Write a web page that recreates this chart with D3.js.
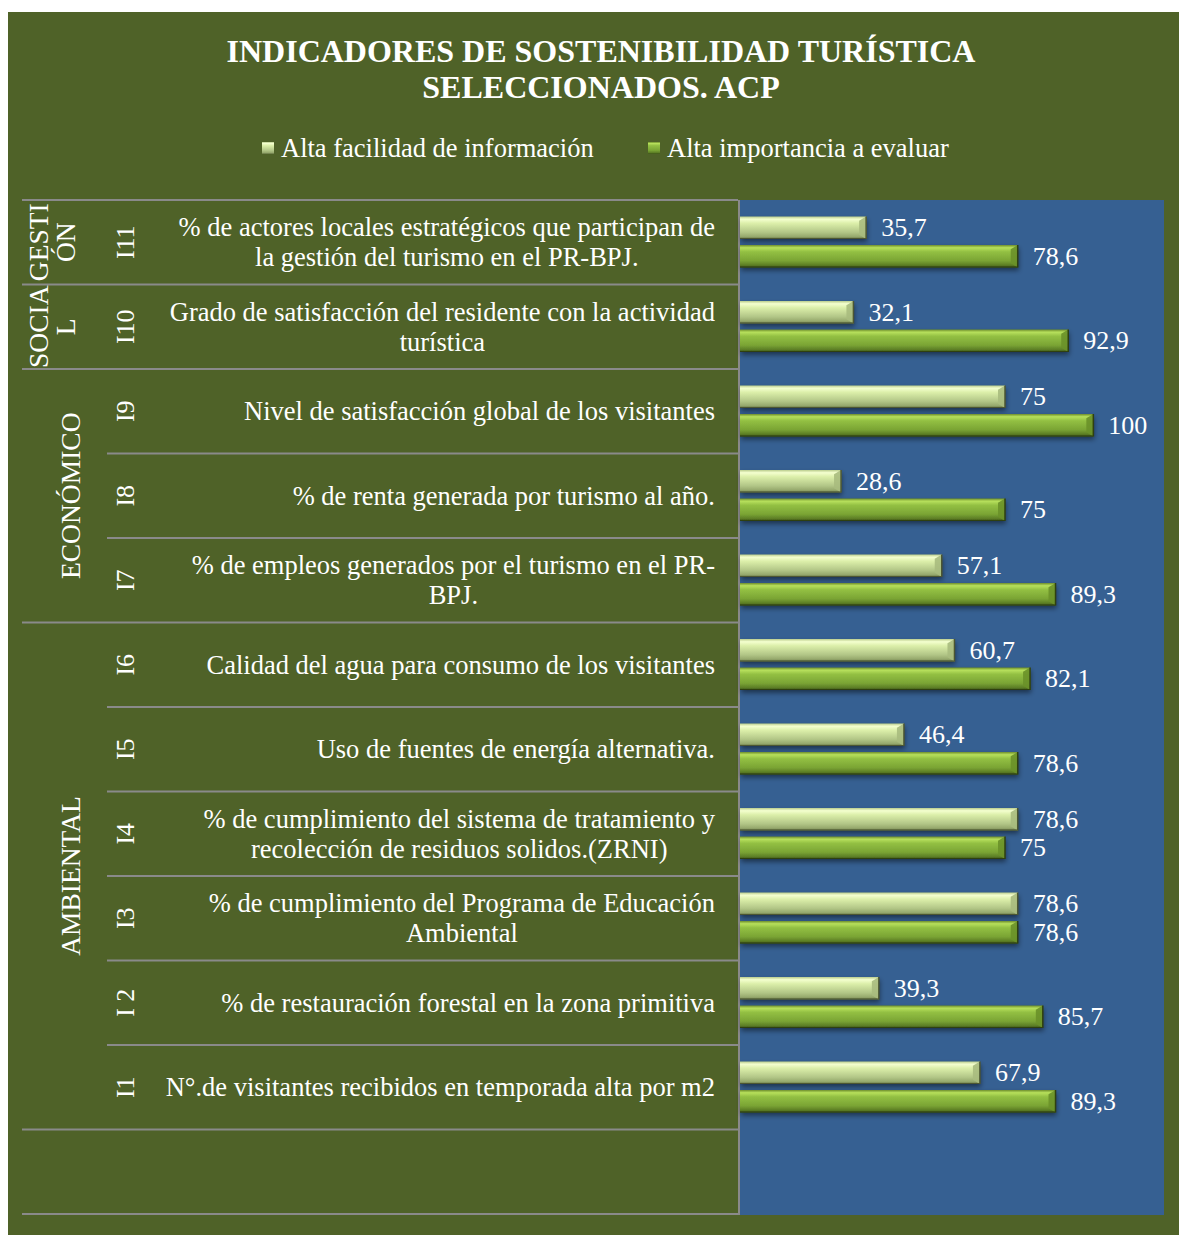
<!DOCTYPE html>
<html>
<head>
<meta charset="utf-8">
<script src="https://cdn.jsdelivr.net/npm/d3@7"></script>
<style>
  html, body { margin: 0; padding: 0; background: #ffffff; }
  svg { display: block; }
  text { font-family: 'Liberation Serif', 'Times New Roman', serif; fill: #ffffff; }
</style>
</head>
<body>
<div id="chart"></div>
<script>
// Datos del gráfico
const ids = ['I11', 'I10', 'I9', 'I8', 'I7', 'I6', 'I5', 'I4', 'I3', 'I 2', 'I1'];
const indicadores = [
  ['% de actores locales estratégicos que participan de', 'la gestión del turismo en el PR-BPJ.'],
  ['Grado de satisfacción del residente con la actividad', 'turística'],
  ['Nivel de satisfacción global de los visitantes'],
  ['% de renta generada por turismo al año.'],
  ['% de empleos generados por el turismo en el PR-', 'BPJ.'],
  ['Calidad del agua para consumo de los visitantes'],
  ['Uso de fuentes de energía alternativa.'],
  ['% de cumplimiento del sistema de tratamiento y', 'recolección de residuos solidos.(ZRNI)'],
  ['% de cumplimiento del Programa de Educación', 'Ambiental'],
  ['% de restauración forestal en la zona primitiva'],
  ['N°.de visitantes recibidos en temporada alta por m2']
];
const facilidad = [35.7, 32.1, 75, 28.6, 57.1, 60.7, 46.4, 78.6, 78.6, 39.3, 67.9];
const importancia = [78.6, 92.9, 100, 75, 89.3, 82.1, 78.6, 75, 78.6, 85.7, 89.3];
const grupos = [
  { lines: ['GESTI', 'ÓN'], first: 'I11', last: 'I11' },
  { lines: ['SOCIA', 'L'], first: 'I10', last: 'I10' },
  { lines: ['ECONÓMICO'], first: 'I9', last: 'I7' },
  { lines: ['AMBIENTAL'], first: 'I6', last: 'I1' }
];
const series = ['Alta facilidad de información', 'Alta importancia a evaluar'];
const titulo = ['INDICADORES DE SOSTENIBILIDAD TURÍSTICA', 'SELECCIONADOS. ACP'];

const W = 1179, H = 1235;
const green = '#4f6228', blue = '#366092', lineColor = '#8a8a8a';
const fmt = v => String(v).replace('.', ',');

const svg = d3.select('#chart').append('svg')
  .attr('width', W).attr('height', H);

// Gradientes para efecto bisel
const defs = svg.append('defs');
function grad(id, stops) {
  const g = defs.append('linearGradient').attr('id', id)
    .attr('x1', 0).attr('y1', 0).attr('x2', 0).attr('y2', 1);
  stops.forEach(([o, c]) => g.append('stop').attr('offset', o).attr('stop-color', c));
}
grad('gLight', [[0, '#b9cc8c'], [0.12, '#f4ffcf'], [0.3, '#dcefaa'], [0.7, '#b2c687'], [0.9, '#95a86c'], [1, '#5f6d3e']]);
grad('gDark', [[0, '#6d8d2c'], [0.12, '#b7e05c'], [0.3, '#93c043'], [0.7, '#7aa434'], [0.9, '#5c7d25'], [1, '#394f15']]);
const shadow = defs.append('filter').attr('id', 'shadow')
  .attr('x', '-5%').attr('y', '-30%').attr('width', '115%').attr('height', '180%');
shadow.append('feDropShadow').attr('dx', 1).attr('dy', 3).attr('stdDeviation', 2.5)
  .attr('flood-color', '#000').attr('flood-opacity', 0.45);

// Fondo
svg.append('rect').attr('x', 8).attr('y', 12).attr('width', 1171).attr('height', 1223).attr('fill', green);

// Título
svg.append('g').selectAll('text').data(titulo).join('text')
  .attr('x', 601).attr('y', (d, i) => 62 + i * 36)
  .attr('text-anchor', 'middle')
  .attr('font-size', 32).attr('font-weight', 'bold')
  .text(d => d);

// Leyenda
const legX = [262, 648];
const leg = svg.append('g').selectAll('g').data(series).join('g')
  .attr('transform', (d, i) => `translate(${legX[i]},0)`);
leg.append('rect').attr('x', 0).attr('y', 142).attr('width', 12).attr('height', 12)
  .attr('fill', (d, i) => i === 0 ? 'url(#gLight)' : 'url(#gDark)');
leg.append('text').attr('x', 19).attr('y', 157).attr('font-size', 26.5).text(d => d);

// Escalas
const y = d3.scaleBand().domain([...ids, '']).range([200, 1214]);
const x = d3.scaleLinear().domain([0, 120]).range([740, 1164]);
const sub = d3.scaleBand().domain(['fac', 'imp']).range([16.5, 67.5]).paddingInner(0.21);

// Área de trazado
svg.append('rect').attr('x', x(0)).attr('y', y.range()[0])
  .attr('width', x(120) - x(0)).attr('height', y.range()[1] - y.range()[0] + 1)
  .attr('fill', blue);

// Tabla
const table = svg.append('g');
const groupStarts = new Set(grupos.map(g => g.first));
[...ids, ''].forEach(id => {
  const full = groupStarts.has(id) || id === '';
  table.append('line')
    .attr('x1', full ? 22 : 107).attr('x2', 738)
    .attr('y1', y(id)).attr('y2', y(id))
    .attr('stroke', lineColor).attr('stroke-width', 2);
});
table.append('line').attr('x1', 22).attr('x2', 738)
  .attr('y1', y.range()[1]).attr('y2', y.range()[1])
  .attr('stroke', lineColor).attr('stroke-width', 2);
table.append('line').attr('x1', 739).attr('x2', 739)
  .attr('y1', y.range()[0]).attr('y2', y.range()[1] + 1)
  .attr('stroke', lineColor).attr('stroke-width', 2);

// Grupos (texto vertical)
grupos.forEach(g => {
  const cy = (y(g.first) + y(g.last) + y.bandwidth()) / 2;
  const xs = g.lines.length === 1 ? [70] : [38, 65];
  g.lines.forEach((l, i) => {
    table.append('text')
      .attr('transform', `translate(${xs[i]},${cy}) rotate(-90)`)
      .attr('text-anchor', 'middle').attr('dominant-baseline', 'central')
      .attr('font-size', 27.5).text(l);
  });
});

// Identificadores
table.selectAll('.id').data(ids).join('text').attr('class', 'id')
  .attr('transform', d => `translate(125,${y(d) + y.bandwidth() / 2}) rotate(-90)`)
  .attr('text-anchor', 'middle').attr('dominant-baseline', 'central')
  .attr('font-size', 26).text(d => d);

// Descripciones: bloque alineado a la derecha, líneas centradas
const rightEdge = 715;
indicadores.forEach((lines, r) => {
  const cy = y(ids[r]) + y.bandwidth() / 2;
  const ts = lines.map((l, i) => table.append('text')
    .attr('y', cy + (i - (lines.length - 1) / 2) * 30)
    .attr('dominant-baseline', 'central')
    .attr('text-anchor', 'middle')
    .attr('font-size', 26.5).text(l));
  const wmax = d3.max(ts, t => t.node().getComputedTextLength());
  ts.forEach(t => t.attr('x', rightEdge - wmax / 2));
});

// Barras
const rows = ids.map((id, i) => ({ id, fac: facilidad[i], imp: importancia[i] }));
const bars = svg.append('g');
['fac', 'imp'].forEach(k => {
  const fill = k === 'fac' ? 'url(#gLight)' : 'url(#gDark)';
  const edge = k === 'fac' ? '#4c5632' : '#2f4010';
  const cap = k === 'fac' ? '#a9bb7e' : '#6a9129';
  const g = bars.append('g').attr('class', k);
  const bar = g.selectAll('g').data(rows).join('g')
    .attr('transform', d => `translate(0,${y(d.id) + sub(k)})`);
  bar.append('rect')
    .attr('x', x(0)).attr('y', 0)
    .attr('width', d => x(d[k]) - x(0)).attr('height', sub.bandwidth())
    .attr('fill', fill).attr('filter', 'url(#shadow)');
  // Extremo biselado
  bar.append('path')
    .attr('d', d => {
      const x1 = x(d[k]), h = sub.bandwidth(), b = 7;
      return `M${x1},0 L${x1 - b},${b * 0.6} L${x1 - b},${h - b * 0.6} L${x1},${h} Z`;
    })
    .attr('fill', cap).attr('opacity', 0.9);
  bar.append('line')
    .attr('x1', d => x(d[k])).attr('x2', d => x(d[k]))
    .attr('y1', 0).attr('y2', sub.bandwidth())
    .attr('stroke', edge).attr('stroke-width', 1.5);
  bar.append('line')
    .attr('x1', x(0)).attr('x2', d => x(d[k]))
    .attr('y1', sub.bandwidth() - 0.5).attr('y2', sub.bandwidth() - 0.5)
    .attr('stroke', edge).attr('stroke-width', 1);
  // Etiquetas de valor
  bar.append('text')
    .attr('x', d => x(d[k]) + 15).attr('y', sub.bandwidth() / 2)
    .attr('dominant-baseline', 'central')
    .attr('font-size', 26).text(d => fmt(d[k]));
});
</script>
</body>
</html>
